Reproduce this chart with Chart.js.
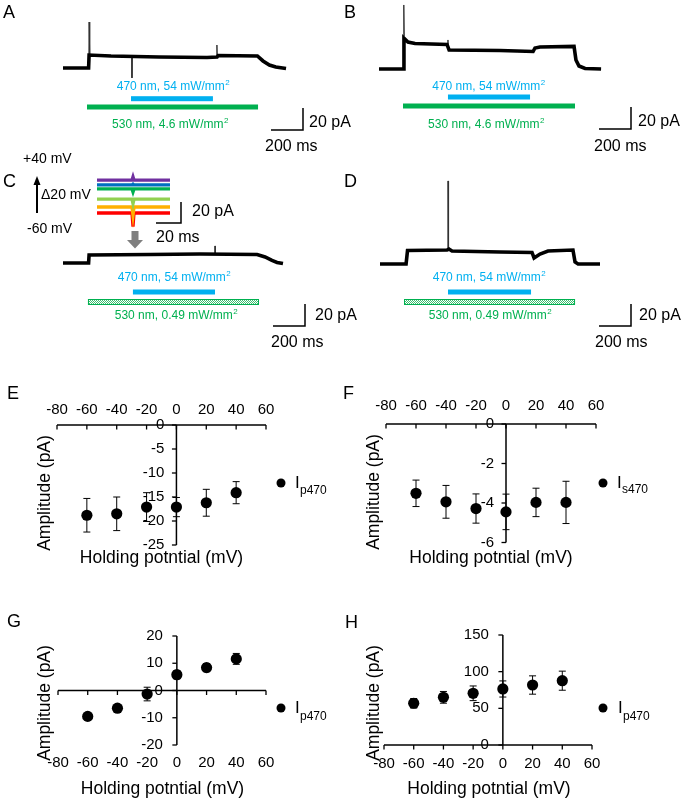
<!DOCTYPE html>
<html><head><meta charset="utf-8">
<script src="https://cdn.jsdelivr.net/npm/chart.js@4.4.0/dist/chart.umd.min.js"></script>
<style>
html,body{margin:0;padding:0;background:#fff;}
#wrap{position:relative;width:682px;height:800px;overflow:hidden;background:#fff}
canvas{position:absolute;left:0;top:0}
</style></head><body><div id="wrap"></div>
<script>
const FONT = '"Liberation Sans", Arial, Helvetica, sans-serif';

// ---------------- DATA ----------------
// Holding potentials (mV) for the I-V plots
const holdingPotentials = [-60, -40, -20, 0, 20, 40];
// E: Ip470 amplitude (pA) and error
const ampE = [-18.8, -18.5, -17.1, -17.1, -16.2, -14.1];
const errE = [3.5, 3.5, 3.0, 2.0, 2.8, 2.3];
// F: Is470
const ampF = [-3.51, -3.94, -4.28, -4.45, -3.97, -3.97];
const errF = [0.67, 0.83, 0.74, 0.9, 0.72, 1.07];
// G: Ip470
const ampG = [-9.5, -6.5, -1.3, 5.8, 8.4, 11.6];
const errG = [1.0, 1.0, 2.5, 1.5, 1.5, 2.0];
// H: Ip470
const ampH = [56.9, 65, 70.5, 76.4, 81.8, 87.7];
const errH = [6.5, 8, 10, 11, 12.5, 13];
// tick labels
const xTicks = [-80, -60, -40, -20, 0, 20, 40, 60];
const yTicksE = [0, -5, -10, -15, -20, -25];
const yTicksF = [0, -2, -4, -6];
const yTicksG = [20, 10, 0, -10, -20];
const yTicksH = [150, 100, 50, 0];

// Current traces: time (ms) and current (pA, relative to baseline)
const traceA_t = [0, 160, 163, 300, 600, 900, 963, 970, 1215, 1250, 1290, 1330, 1394];
const traceA_i = [0, 0, 11.8, 10.9, 10, 9.5, 10, 11.4, 10.9, 6.4, 2.7, 0.9, -0.5];
const spikeA_t = [161, 163, 167, null, 430, 431, 433, null, 961, 962, 964];
const spikeA_i = [0, 41.8, 12, null, 10, -9, 10, null, 10, 20.9, 11];

const traceB_t = [0, 153, 156, 181, 225, 425, 438, 756, 963, 975, 1006, 1219, 1231, 1250, 1288, 1388];
const traceB_i = [0, 0, 28, 24.5, 23.2, 22.3, 17.3, 16.8, 15.9, 19.1, 20, 20.5, 8.2, 2.7, 0.5, 0];
const spikeB_t = [153, 155, 158, null, 430, 431, 433];
const spikeB_i = [0, 58.2, 30, null, 22, 26.4, 18];

const traceC_t = [0, 160, 163, 544, 856, 1213, 1263, 1306, 1338, 1375];
const traceC_i = [0, 0, 7.3, 7.7, 8.2, 7.7, 5.5, 2.3, 0.5, -0.5];
const spikeC_t = [949, 950, 952];
const spikeC_i = [8, 15.5, 8];

const traceD_t = [0, 163, 172, 419, 431, 450, 750, 950, 963, 1000, 1050, 1206, 1219, 1238, 1375];
const traceD_i = [0, 0, 12.3, 12.7, 13.6, 11.8, 10.9, 10.5, 5.5, 9.1, 11.8, 12.7, 1.8, 0, 0];
const spikeD_t = [424, 425, 427, 430];
const spikeD_i = [12.7, 75.5, 25, 14];

// light stimulation windows (ms): [on, off]
const blueA = [425, 937],  greenA = [150, 1219];
const blueB = [431, 944],  greenB = [150, 1225];
const blueC = [437, 950],  greenC = [156, 1225];
const blueD = [425, 944],  greenD = [150, 1219];

// Inset (panel C): time (ms), currents at each holding potential (pA)
const insetT = [0, 28.0, 28.8, 29.6, 58.4];
const insetLabels = ['-60 mV', '-40 mV', '-20 mV', '0 mV', '+20 mV', '+40 mV'];
const insetRed = [0, 0, -13, 0, 0];
const insetOrange = [5.7, 5.7, -2, 5.7, 5.7];
const insetLightGreen = [13.3, 13.3, 9, 13.3, 13.3];
const insetGreen = [22.9, 22.9, 20, 22.9, 22.9];
const insetBlue = [26.7, 26.7, 27.5, 26.7, 26.7];
const insetPurple = [31.4, 31.4, 34.5, 31.4, 31.4];

// ---------------- HELPERS ----------------
const W = 682, H = 800;
const wrap = document.getElementById('wrap');
function mkCanvas() {
  const c = document.createElement('canvas');
  c.width = W; c.height = H; c.style.width = W + 'px'; c.style.height = H + 'px';
  wrap.appendChild(c); return c;
}
function padFor(a) { return { left: a[0], top: a[1], right: W - a[2], bottom: H - a[3] }; }
function pts(t, v) { return t.map((x, i) => ({ x: x, y: (x === null ? null : v[i]) })).map(p => p.x === null ? { x: NaN, y: null } : p); }
function txt(ctx, s, x, y, size, align, color) {
  ctx.save(); ctx.font = size + 'px ' + FONT; ctx.fillStyle = color || '#000';
  ctx.textAlign = align || 'left'; ctx.textBaseline = 'middle'; ctx.fillText(s, x, y); ctx.restore();
}
function wl(ctx, main, cx, cy, color) {
  ctx.save();
  ctx.font = '12px ' + FONT; const w1 = ctx.measureText(main).width;
  ctx.font = '8px ' + FONT; const w2 = ctx.measureText('2').width;
  const x0 = cx - (w1 + w2) / 2;
  ctx.fillStyle = color; ctx.textBaseline = 'middle'; ctx.textAlign = 'left';
  ctx.font = '12px ' + FONT; ctx.fillText(main, x0, cy);
  ctx.font = '8px ' + FONT; ctx.fillText('2', x0 + w1 + 0.5, cy - 4);
  ctx.restore();
}
function line(ctx, x1, y1, x2, y2, w, col) {
  ctx.save(); ctx.strokeStyle = col || '#000'; ctx.lineWidth = w; ctx.beginPath();
  ctx.moveTo(x1, y1); ctx.lineTo(x2, y2); ctx.stroke(); ctx.restore();
}
function hatchPattern(ctx) {
  const p = document.createElement('canvas'); p.width = 2; p.height = 2;
  const c = p.getContext('2d');
  c.fillStyle = '#ffffff'; c.fillRect(0, 0, 2, 2);
  c.fillStyle = '#3cc070'; c.fillRect(0, 0, 1, 1); c.fillRect(1, 1, 1, 1);
  return ctx.createPattern(p, 'repeat');
}
const BLUE = '#00B0F0', GREEN = '#00B050';
const baseOpts = {
  responsive: false, animation: false, devicePixelRatio: 1, events: [],
  plugins: { legend: { display: false }, tooltip: { enabled: false } }
};

// ---------------- TRACE PANELS ----------------
const tracePanels = [
  { letter: 'A', lx: 3, ly: 13, t: traceA_t, i: traceA_i, st: spikeA_t, si: spikeA_i, blue: blueA, green: greenA,
    area: [63, 2, 287, 90], ymax: 60, blueText: [173, 87], blueY: 98.7, greenY: 107, greenText: [170, 125],
    blueMain: '470 nm, 54 mW/mm', greenMain: '530 nm, 4.6 mW/mm', hatched: false,
    sb: [303, 130], sbPA: [309, 122.5], sbMS: [265, 147] },
  { letter: 'B', lx: 344, ly: 13, t: traceB_t, i: traceB_i, st: spikeB_t, si: spikeB_i, blue: blueB, green: greenB,
    area: [379, 3, 603, 91], ymax: 60, blueText: [488.5, 87], blueY: 97, greenY: 106, greenText: [486, 125],
    blueMain: '470 nm, 54 mW/mm', greenMain: '530 nm, 4.6 mW/mm', hatched: false,
    sb: [631, 129], sbPA: [638, 122], sbMS: [594, 147] },
  { letter: 'C', lx: 3, ly: 182, t: traceC_t, i: traceC_i, st: spikeC_t, si: spikeC_i, blue: blueC, green: greenC,
    area: [63, 175, 287, 285], ymax: 80, blueText: [174, 278], blueY: 292, greenY: 302, greenText: [176, 316],
    blueMain: '470 nm, 54 mW/mm', greenMain: '530 nm, 0.49 mW/mm', hatched: true,
    sb: [305, 326], sbPA: [315, 316], sbMS: [271, 343] },
  { letter: 'D', lx: 344, ly: 182, t: traceD_t, i: traceD_i, st: spikeD_t, si: spikeD_i, blue: blueD, green: greenD,
    area: [380, 176, 604, 286], ymax: 80, blueText: [489, 278], blueY: 292, greenY: 302, greenText: [490, 316],
    blueMain: '470 nm, 54 mW/mm', greenMain: '530 nm, 0.49 mW/mm', hatched: true,
    sb: [631, 326], sbPA: [639, 316], sbMS: [595, 343] }
];

tracePanels.forEach(p => {
  const c = mkCanvas();
  const plugin = {
    id: 'trace' + p.letter,
    afterDraw(chart) {
      const ctx = chart.ctx, xs = chart.scales.x, ys = chart.scales.y;
      // panel letter
      txt(ctx, p.letter, p.lx, p.ly, 18, 'left');
      // blue stimulus
      wl(ctx, p.blueMain, p.blueText[0], p.blueText[1], BLUE);
      const bx1 = xs.getPixelForValue(p.blue[0]), bx2 = xs.getPixelForValue(p.blue[1]);
      ctx.save(); ctx.fillStyle = BLUE; ctx.fillRect(bx1, p.blueY - 2.5, bx2 - bx1, 5); ctx.restore();
      // green stimulus
      const gx1 = xs.getPixelForValue(p.green[0]), gx2 = xs.getPixelForValue(p.green[1]);
      ctx.save();
      if (p.hatched) {
        ctx.fillStyle = hatchPattern(ctx); ctx.fillRect(gx1, p.greenY - 3, gx2 - gx1, 6);
        ctx.strokeStyle = GREEN; ctx.lineWidth = 1; ctx.strokeRect(gx1 + 0.5, p.greenY - 2.5, gx2 - gx1 - 1, 5);
      } else {
        ctx.fillStyle = GREEN; ctx.fillRect(gx1, p.greenY - 2.5, gx2 - gx1, 5);
      }
      ctx.restore();
      wl(ctx, p.greenMain, p.greenText[0], p.greenText[1], GREEN);
      // scale bar 200 ms / 20 pA
      const hx = xs.getPixelForValue(200) - xs.getPixelForValue(0);
      const vy = ys.getPixelForValue(0) - ys.getPixelForValue(20);
      ctx.save(); ctx.strokeStyle = '#000'; ctx.lineWidth = 1.5; ctx.beginPath();
      ctx.moveTo(p.sb[0], p.sb[1] - vy); ctx.lineTo(p.sb[0], p.sb[1]); ctx.lineTo(p.sb[0] - hx, p.sb[1]); ctx.stroke(); ctx.restore();
      txt(ctx, '20 pA', p.sbPA[0], p.sbPA[1], 16, 'left');
      txt(ctx, '200 ms', p.sbMS[0], p.sbMS[1], 16, 'left');
      if (p.letter === 'C') {
        txt(ctx, '+40 mV', 23, 159, 14, 'left');
        txt(ctx, '\u039420 mV', 41, 195, 14, 'left');
        txt(ctx, '-60 mV', 27, 229, 14, 'left');
        line(ctx, 37, 213, 37, 183, 2);
        ctx.save(); ctx.fillStyle = '#000'; ctx.beginPath();
        ctx.moveTo(37, 176); ctx.lineTo(33.5, 185); ctx.lineTo(40.5, 185); ctx.closePath(); ctx.fill(); ctx.restore();
      }
    }
  };
  new Chart(c, {
    type: 'line',
    data: {
      datasets: [
        { data: pts(p.t, p.i), borderColor: '#000', borderWidth: 3.6, pointRadius: 0, tension: 0, spanGaps: false, clip: false },
        { data: pts(p.st, p.si), borderColor: '#333', borderWidth: 1, pointRadius: 0, tension: 0, spanGaps: false, clip: false }
      ]
    },
    options: Object.assign({}, baseOpts, {
      layout: { padding: padFor(p.area) },
      scales: {
        x: { type: 'linear', min: 0, max: 1400, display: false },
        y: { type: 'linear', min: -20, max: p.ymax, display: false }
      }
    }),
    plugins: [plugin]
  });
});

// ---------------- INSET (panel C) ----------------
(function () {
  const c = mkCanvas();
  const series = [insetRed, insetOrange, insetLightGreen, insetGreen, insetBlue, insetPurple];
  const cols = ['#FF0000', '#FFB000', '#92D050', '#00B050', '#0070C0', '#7030A0'];
  const plugin = {
    id: 'inset',
    afterDraw(chart) {
      const ctx = chart.ctx, xs = chart.scales.x, ys = chart.scales.y;
      const hx = xs.getPixelForValue(20) - xs.getPixelForValue(0);
      const vy = ys.getPixelForValue(0) - ys.getPixelForValue(20);
      ctx.save(); ctx.strokeStyle = '#000'; ctx.lineWidth = 1.5; ctx.beginPath();
      ctx.moveTo(181, 223 - vy); ctx.lineTo(181, 223); ctx.lineTo(181 - hx, 223); ctx.stroke(); ctx.restore();
      txt(ctx, '20 pA', 192, 212, 16, 'left');
      txt(ctx, '20 ms', 156, 238, 16, 'left');
      // grey arrow
      ctx.save(); ctx.fillStyle = '#7f7f7f'; ctx.beginPath();
      ctx.moveTo(131.5, 231); ctx.lineTo(138.5, 231); ctx.lineTo(138.5, 240); ctx.lineTo(143, 240);
      ctx.lineTo(135, 248.5); ctx.lineTo(127, 240); ctx.lineTo(131.5, 240); ctx.closePath(); ctx.fill(); ctx.restore();
    }
  };
  new Chart(c, {
    type: 'line',
    data: {
      datasets: series.map((s, k) => ({
        label: insetLabels[k], data: pts(insetT, s), borderColor: cols[k], borderWidth: 3.3,
        pointRadius: 0, tension: 0, clip: false
      })).reverse()
    },
    options: Object.assign({}, baseOpts, {
      layout: { padding: padFor([97, 176.25, 170, 228.75]) },
      scales: {
        x: { type: 'linear', min: 0, max: 58.4, display: false },
        y: { type: 'linear', min: -15, max: 35, display: false }
      }
    }),
    plugins: [plugin]
  });
})();

// ---------------- I-V PANELS ----------------
const ivPanels = [
  { letter: 'E', lx: 7, ly: 394, amp: ampE, err: errE, yTicks: yTicksE, ymin: -25, ymax: 0, cross: 0,
    area: [57, 425, 266, 545], xLabelY: 410, yGap: 12, sub: 'p470',
    yTitle: [45, 493], xTitle: [161.5, 558], legend: [281, 483, 295, 300, 490.5] },
  { letter: 'F', lx: 343, ly: 394, amp: ampF, err: errF, yTicks: yTicksF, ymin: -6, ymax: 0, cross: 0,
    area: [386, 424, 596, 542.5], xLabelY: 406, yGap: 12, sub: 's470',
    yTitle: [374, 492], xTitle: [491, 558], legend: [603, 483, 617, 622, 489.5] },
  { letter: 'G', lx: 7, ly: 622, amp: ampG, err: errG, yTicks: yTicksG, ymin: -20, ymax: 20, cross: 0,
    area: [58, 636, 266, 745], xLabelY: 763, yGap: 14, sub: 'p470',
    yTitle: [45, 703], xTitle: [162.5, 789], legend: [281, 708, 295, 300, 716.5] },
  { letter: 'H', lx: 345, ly: 623, amp: ampH, err: errH, yTicks: yTicksH, ymin: 0, ymax: 150, cross: 0,
    area: [384, 635, 592, 745], xLabelY: 764, yGap: 14, sub: 'p470',
    yTitle: [374, 703], xTitle: [489, 789], legend: [603, 708, 618, 623, 716.5] }
];

ivPanels.forEach(p => {
  const c = mkCanvas();
  const plugin = {
    id: 'iv' + p.letter,
    beforeDatasetsDraw(chart) {
      const ctx = chart.ctx, xs = chart.scales.x, ys = chart.scales.y;
      const ax = xs.getPixelForValue(0), ay = ys.getPixelForValue(p.cross);
      const x1 = xs.getPixelForValue(-80), x2 = xs.getPixelForValue(60);
      // horizontal axis
      line(ctx, x1, ay, x2, ay, 1.5);
      xTicks.forEach(v => {
        const x = xs.getPixelForValue(v);
        line(ctx, x, ay, x, ay + 4.5, 1.3);
        txt(ctx, String(v), x, p.xLabelY, 15, 'center');
      });
      // vertical axis
      line(ctx, ax, ys.getPixelForValue(p.ymin), ax, ys.getPixelForValue(p.ymax), 1.5);
      p.yTicks.forEach(v => {
        const y = ys.getPixelForValue(v);
        line(ctx, ax - 4.5, y, ax, y, 1.3);
        txt(ctx, String(v), ax - p.yGap, y, 15, 'right');
      });
      // error bars
      ctx.save(); ctx.strokeStyle = '#000'; ctx.lineWidth = 1;
      holdingPotentials.forEach((v, i) => {
        const x = xs.getPixelForValue(v);
        const yt = ys.getPixelForValue(p.amp[i] + p.err[i]);
        const yb = ys.getPixelForValue(p.amp[i] - p.err[i]);
        ctx.beginPath();
        ctx.moveTo(x, yt); ctx.lineTo(x, yb);
        ctx.moveTo(x - 3.5, yt); ctx.lineTo(x + 3.5, yt);
        ctx.moveTo(x - 3.5, yb); ctx.lineTo(x + 3.5, yb);
        ctx.stroke();
      });
      ctx.restore();
      // titles
      txt(ctx, p.letter, p.lx, p.ly, 18, 'left');
      ctx.save(); ctx.translate(p.yTitle[0], p.yTitle[1]); ctx.rotate(-Math.PI / 2);
      txt(ctx, 'Amplitude (pA)', 0, 0, 17.5, 'center'); ctx.restore();
      txt(ctx, 'Holding potntial (mV)', p.xTitle[0], p.xTitle[1], 17.5, 'center');
      // legend
      ctx.save(); ctx.fillStyle = '#000'; ctx.beginPath(); ctx.arc(p.legend[0], p.legend[1], 4.5, 0, Math.PI * 2); ctx.fill(); ctx.restore();
      txt(ctx, 'I', p.legend[2], p.legend[1], 17, 'left');
      txt(ctx, p.sub, p.legend[3], p.legend[4], 12, 'left');
    }
  };
  new Chart(c, {
    type: 'scatter',
    data: {
      datasets: [{
        data: holdingPotentials.map((v, i) => ({ x: v, y: p.amp[i] })),
        backgroundColor: '#000', borderColor: '#000', pointRadius: 5.6, pointBorderWidth: 0, clip: false
      }]
    },
    options: Object.assign({}, baseOpts, {
      layout: { padding: padFor(p.area) },
      scales: {
        x: { type: 'linear', min: -80, max: 60, display: false },
        y: { type: 'linear', min: p.ymin, max: p.ymax, display: false }
      }
    }),
    plugins: [plugin]
  });
});
</script>
</body></html>
